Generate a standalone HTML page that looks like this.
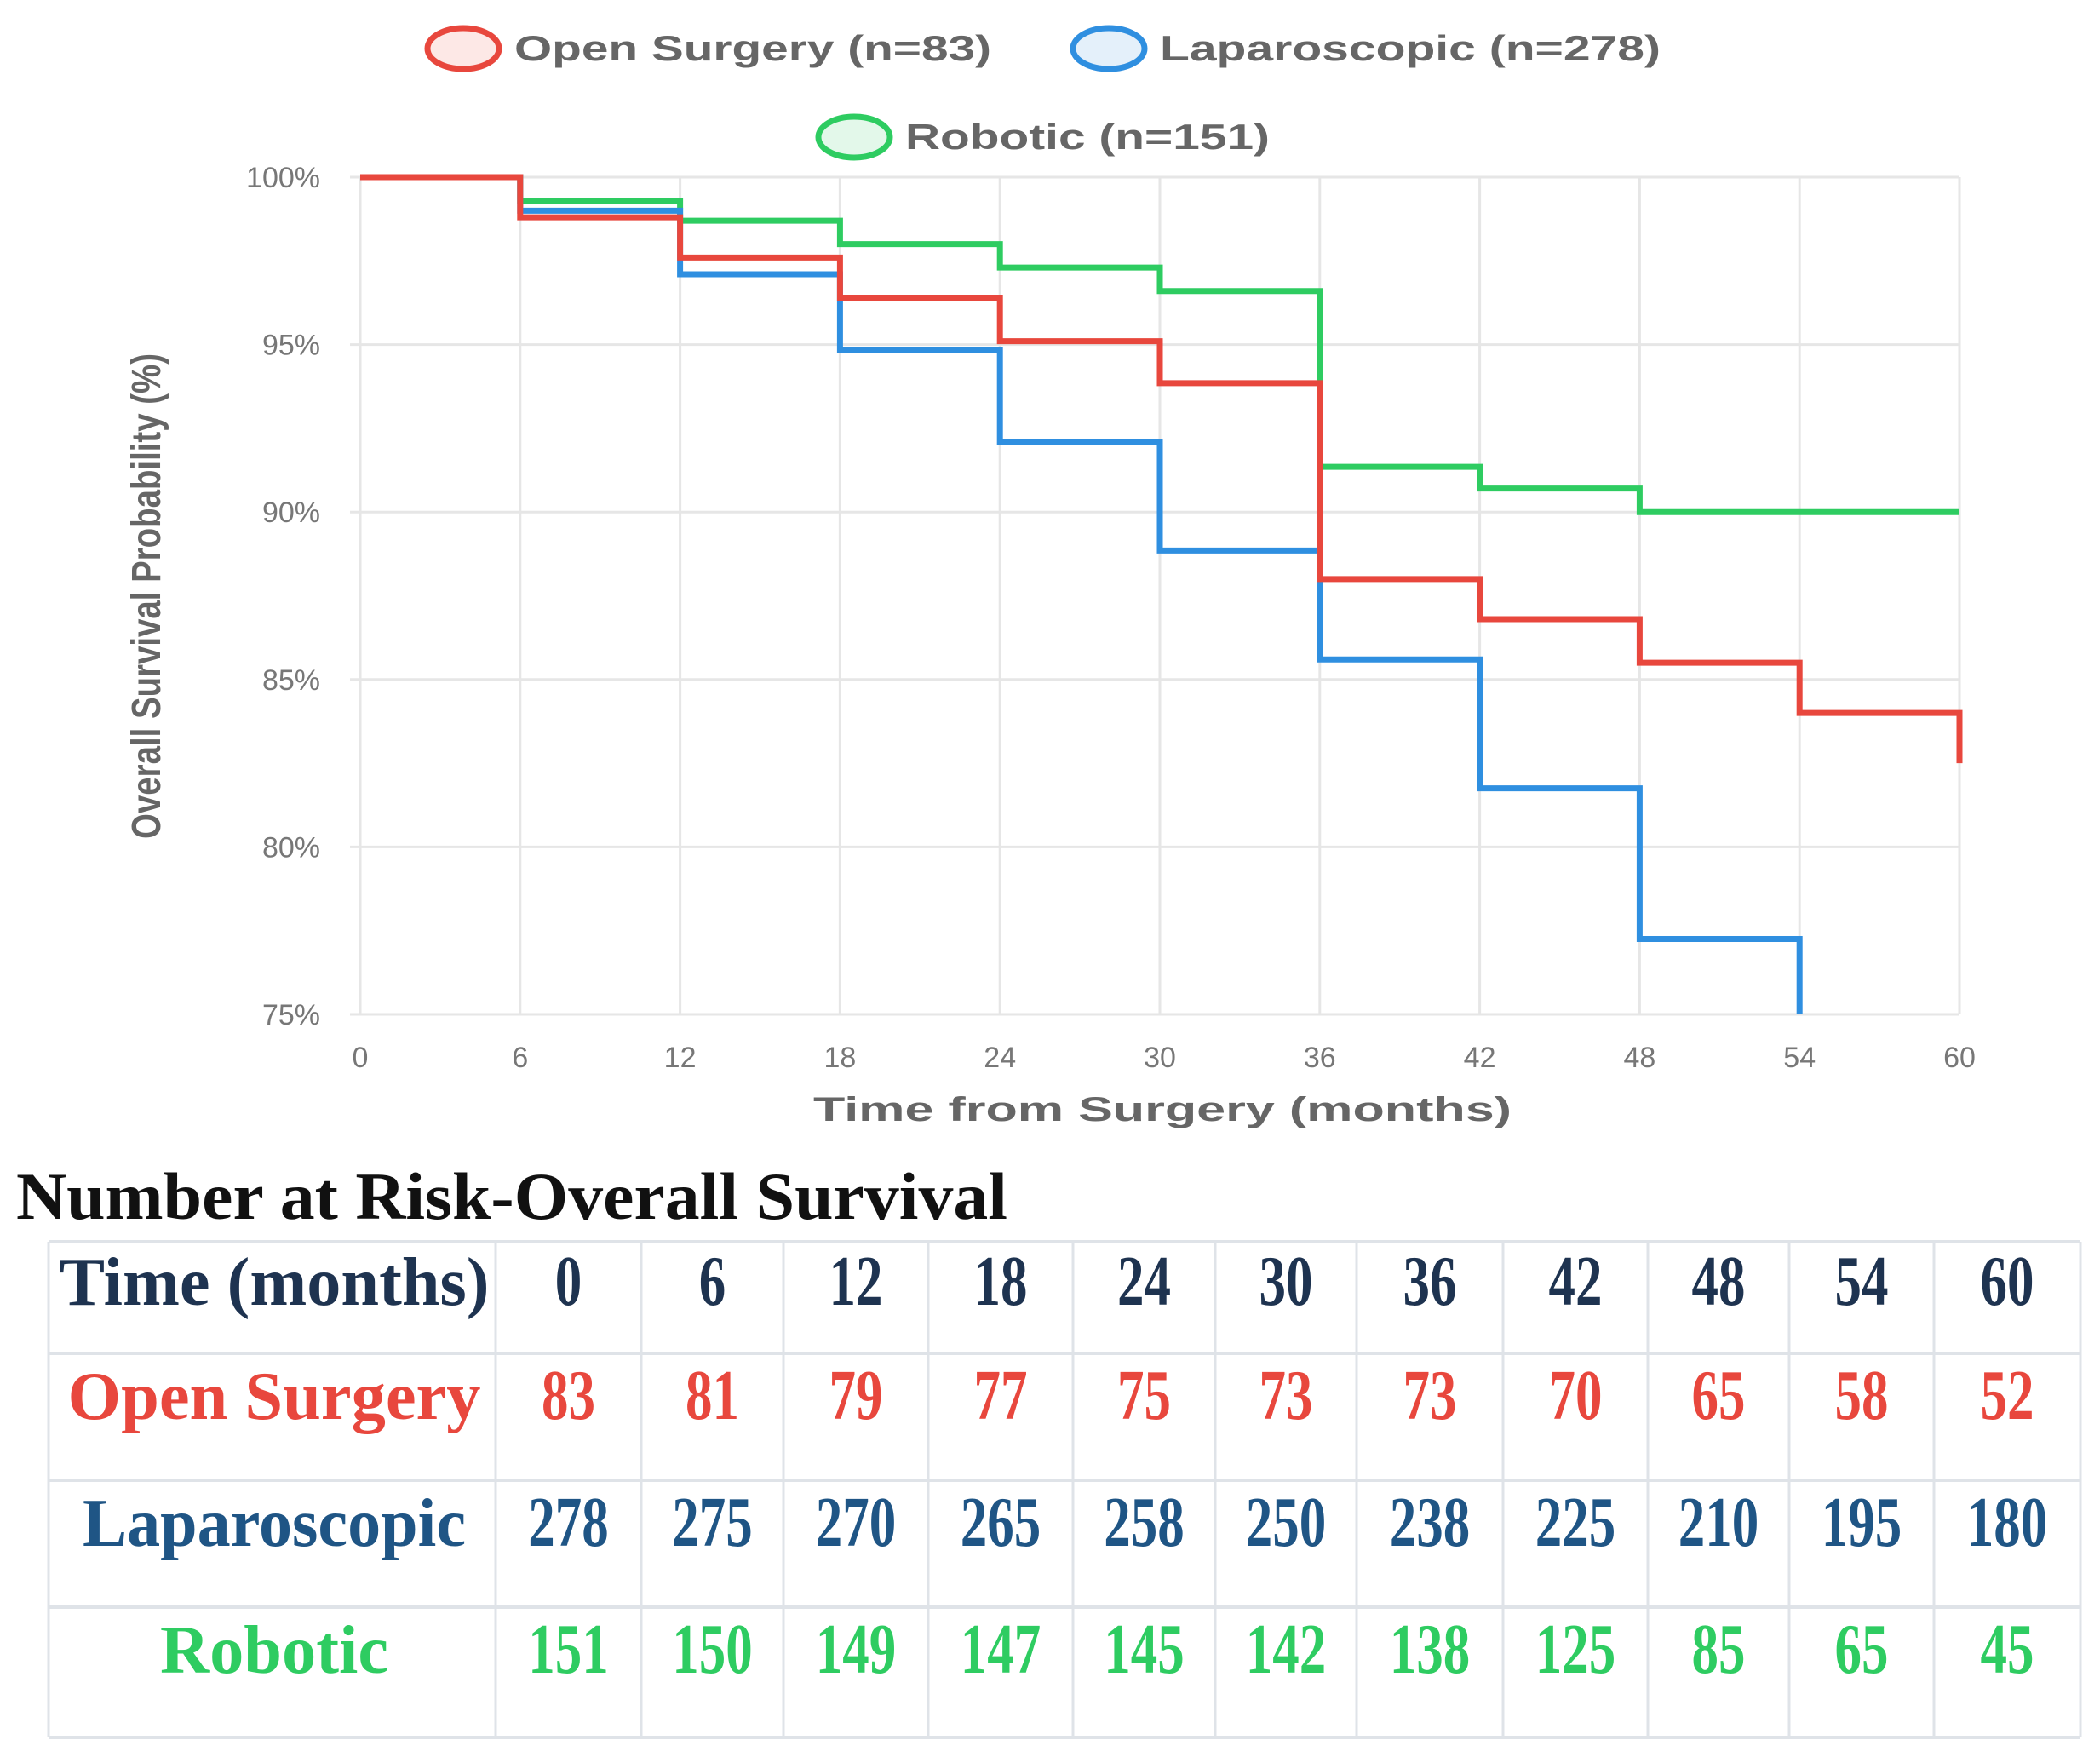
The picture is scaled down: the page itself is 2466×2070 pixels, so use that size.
<!DOCTYPE html>
<html><head><meta charset="utf-8"><style>
html,body{margin:0;padding:0;background:#fff;}
svg{display:block;}
</style></head><body>
<svg id="chart" width="2466" height="2070" viewBox="0 0 2466 2070" xmlns="http://www.w3.org/2000/svg">
<g id="grid"></g>
<g id="ticks" font-family="Liberation Sans, sans-serif" fill="#777" font-size="34"></g>
<g id="series"></g>
<g font-family="Liberation Sans, sans-serif" font-weight="bold" font-size="42" fill="#666">
 <g><ellipse cx="544" cy="57" rx="42" ry="24" fill="#fde8e6" stroke="#e8473d" stroke-width="7"/><text x="604" y="71" textLength="560" lengthAdjust="spacingAndGlyphs">Open Surgery (n=83)</text></g>
 <g><ellipse cx="1302" cy="57" rx="42" ry="24" fill="#e4f0fa" stroke="#2f8fe0" stroke-width="7"/><text x="1362" y="71" textLength="588" lengthAdjust="spacingAndGlyphs">Laparoscopic (n=278)</text></g>
 <g><ellipse cx="1003" cy="161" rx="42" ry="24" fill="#e3f8ea" stroke="#2ecc61" stroke-width="7"/><text x="1063" y="175" textLength="428" lengthAdjust="spacingAndGlyphs">Robotic (n=151)</text></g>
</g>
<text x="1365" y="1316" text-anchor="middle" font-family="Liberation Sans, sans-serif" font-weight="bold" font-size="40" fill="#666" textLength="820" lengthAdjust="spacingAndGlyphs">Time from Surgery (months)</text>
<text transform="translate(188,700) rotate(-90) scale(1,1.2)" text-anchor="middle" font-family="Liberation Sans, sans-serif" font-weight="bold" font-size="40" fill="#666" textLength="570" lengthAdjust="spacingAndGlyphs">Overall Survival Probability (%)</text>
<text transform="translate(19,1431) scale(1,1.3)" font-family="Liberation Serif, serif" font-weight="bold" font-size="60" fill="#111" textLength="1164" lengthAdjust="spacingAndGlyphs">Number at Risk-Overall Survival</text>
<g id="table"></g>
</svg>
<script>
const months = [0,6,12,18,24,30,36,42,48,54,60];
const yTicks = [75,80,85,90,95,100];
const openTimes = [0,6,12,18,24,30,36,42,48,54,60];
const openSurv = [100,98.8,97.6,96.4,95.1,93.85,88.0,86.8,85.5,84.0,82.5];
const lapTimes = [0,6,12,18,24,30,36,42,48,54];
const lapSurv = [100,99.0,97.1,94.85,92.1,88.85,85.6,81.75,77.25,75.0];
const robTimes = [0,6,12,18,24,30,36,42,48,60];
const robSurv = [100,99.3,98.7,98.0,97.3,96.6,91.35,90.7,90.0,90.0];
const riskOpen = [83,81,79,77,75,73,73,70,65,58,52];
const riskLap = [278,275,270,265,258,250,238,225,210,195,180];
const riskRob = [151,150,149,147,145,142,138,125,85,65,45];

const NS="http://www.w3.org/2000/svg";
const X0=423,X1=2301,Y100=208,Y75=1191;
const xs=t=>X0+(t-0)/60*(X1-X0);
const ys=v=>Y75+(v-75)/25*(Y100-Y75);
function mk(tag,attrs,parent){const e=document.createElementNS(NS,tag);for(const k in attrs)e.setAttribute(k,attrs[k]);parent.appendChild(e);return e;}
const grid=document.getElementById('grid'),ticks=document.getElementById('ticks'),series=document.getElementById('series'),table=document.getElementById('table');
months.forEach(m=>{
  const l=mk('line',{x1:xs(m),x2:xs(m),y1:Y100,y2:Y75,stroke:'#e6e6e6','stroke-width':3},grid);
  
  
  const t=mk('text',{x:xs(m),y:1253,'text-anchor':'middle'},ticks);t.textContent=m;
  
  
});
yTicks.forEach(v=>{
  const l=mk('line',{x1:X0-12,x2:X1,y1:ys(v),y2:ys(v),stroke:'#e6e6e6','stroke-width':3},grid);
  
  
  const t=mk('text',{x:376,y:ys(v)+12,'text-anchor':'end'},ticks);t.textContent=v+'%';
  
  
});
function step(times,vals,color,name){
  let d='M'+xs(times[0])+','+ys(vals[0]);
  for(let i=1;i<times.length;i++){d+=' H'+xs(times[i])+' V'+ys(vals[i]);}
  const p=mk('path',{d:d,fill:'none',stroke:color,'stroke-width':7,'stroke-linejoin':'miter'},series);
  
  
}
step(robTimes,robSurv,'#2ecc61','robotic-curve');
step(lapTimes,lapSurv,'#2f8fe0','laparoscopic-curve');
step(openTimes,openSurv,'#e8473d','open-surgery-curve');

// table
const colX=[57,582,753,920,1090,1260,1427,1593,1765,1935,2101,2271,2443];
const rowY=[1458,1589,1738,1887,2040];
colX.forEach(x=>{const l=mk('line',{x1:x,x2:x,y1:rowY[0],y2:rowY[4],stroke:'#dfe3e8','stroke-width':3},table);
  
  });
rowY.forEach(y=>{const l=mk('line',{x1:57,x2:2443,y1:y,y2:y,stroke:'#dfe3e8','stroke-width':4},table);
  
  });
const rows=[
 {label:'Time (months)',vals:months,color:'#1e3350',lx:322,tl:505,name:'header-row'},
 {label:'Open Surgery',vals:riskOpen,color:'#e8473d',lx:322,tl:485,name:'open-surgery-row'},
 {label:'Laparoscopic',vals:riskLap,color:'#1f5585',lx:322,tl:450,name:'laparoscopic-row'},
 {label:'Robotic',vals:riskRob,color:'#2ecc61',lx:322,tl:268,name:'robotic-row'}];
const cy=[1532,1666,1815,1964];
rows.forEach((r,ri)=>{
  const g=mk('g',{'font-family':'Liberation Serif, serif','font-weight':'bold','font-size':60,fill:r.color},table);
  
  
  const t=mk('text',{transform:'translate('+r.lx+','+cy[ri]+') scale(1,1.35)','text-anchor':'middle',textLength:r.tl,lengthAdjust:'spacingAndGlyphs'},g);t.textContent=r.label;
  
  
  r.vals.forEach((v,i)=>{const c=mk('text',{transform:'translate('+((colX[i+1]+colX[i+2])/2)+','+cy[ri]+') scale(1.05,1.4)','text-anchor':'middle'},g);c.textContent=v;
    
    });
});
</script>
</body></html>
